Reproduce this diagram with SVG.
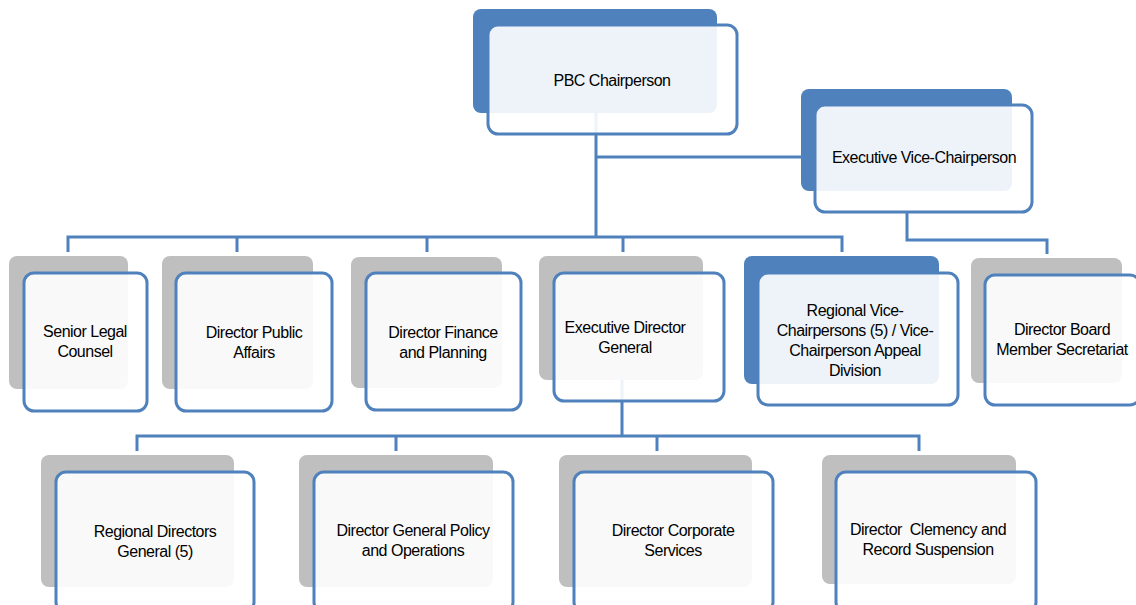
<svg xmlns="http://www.w3.org/2000/svg" width="1136" height="605" viewBox="0 0 1136 605">
<style>
.bb{fill:#4F81BD}
.bg{fill:#BFBFBF}
.fr{fill:#FFFFFF;fill-opacity:0.9;stroke:#4F81BD;stroke-width:3}
.ln{fill:none;stroke:#4F81BD;stroke-width:3}
text{font-family:"Liberation Sans",Arial,sans-serif;font-size:16px;fill:#000;text-anchor:middle;letter-spacing:-0.5px;white-space:pre}
</style>
<rect width="1136" height="605" fill="#FFFFFF"/>
<g id="connectors">
<path class="ln" d="M596,112 V237 M596,157 H801 M68,252 V237 H842 V252 M237,237 V252 M427,237 V252 M623,237 V252"/>
<path class="ln" d="M907,213 V240 H1047 V254"/>
<path class="ln" d="M622,380 V436 M137,451 V436 H919 V451 M396,436 V451 M657,436 V451"/>
</g>
<g id="pbc-chairperson">
<rect class="bb" x="473" y="9" width="244" height="104" rx="8"/>
<rect class="fr" x="488" y="25" width="249" height="109" rx="10"/>
<text x="612" y="86">PBC Chairperson</text>
</g>
<g id="executive-vice-chairperson">
<rect class="bb" x="801" y="89" width="211" height="102" rx="8"/>
<rect class="fr" x="815" y="105" width="217" height="107" rx="10"/>
<text x="924" y="163">Executive Vice-Chairperson</text>
</g>
<g id="senior-legal-counsel">
<rect class="bg" x="9" y="256" width="119" height="133" rx="8"/>
<rect class="fr" x="24" y="273" width="123" height="138" rx="10"/>
<text x="85" y="337">Senior Legal</text>
<text x="85" y="357">Counsel</text>
</g>
<g id="director-public-affairs">
<rect class="bg" x="162" y="256" width="151" height="133" rx="8"/>
<rect class="fr" x="176" y="273" width="156" height="138" rx="10"/>
<text x="254" y="338">Director Public</text>
<text x="254" y="358">Affairs</text>
</g>
<g id="director-finance-planning">
<rect class="bg" x="351" y="257" width="151" height="131" rx="8"/>
<rect class="fr" x="366" y="273" width="155" height="137" rx="10"/>
<text x="443" y="338">Director Finance</text>
<text x="443" y="358">and Planning</text>
</g>
<g id="executive-director-general">
<rect class="bg" x="539" y="256" width="164" height="124" rx="8"/>
<rect class="fr" x="554" y="273" width="170" height="128" rx="10"/>
<text x="625" y="333">Executive Director</text>
<text x="625" y="353">General</text>
</g>
<g id="regional-vice-chairpersons">
<rect class="bb" x="744" y="256" width="195" height="128" rx="8"/>
<rect class="fr" x="758" y="273" width="200" height="132" rx="10"/>
<text x="855" y="316">Regional Vice-</text>
<text x="855" y="336">Chairpersons (5) / Vice-</text>
<text x="855" y="356">Chairperson Appeal</text>
<text x="855" y="376">Division</text>
</g>
<g id="director-board-member-secretariat">
<rect class="bg" x="971" y="258" width="151" height="125" rx="8"/>
<rect class="fr" x="985" y="275" width="155" height="130" rx="10"/>
<text x="1062" y="335">Director Board</text>
<text x="1062" y="355">Member Secretariat</text>
</g>
<g id="regional-directors-general">
<rect class="bg" x="41" y="455" width="193" height="132" rx="8"/>
<rect class="fr" x="56" y="472" width="198" height="140" rx="10"/>
<text x="155" y="537">Regional Directors</text>
<text x="155" y="557">General (5)</text>
</g>
<g id="director-general-policy-operations">
<rect class="bg" x="299" y="455" width="194" height="132" rx="8"/>
<rect class="fr" x="314" y="472" width="199" height="140" rx="10"/>
<text x="413" y="536">Director General Policy</text>
<text x="413" y="556">and Operations</text>
</g>
<g id="director-corporate-services">
<rect class="bg" x="559" y="455" width="193" height="132" rx="8"/>
<rect class="fr" x="574" y="472" width="199" height="140" rx="10"/>
<text x="673" y="536">Director Corporate</text>
<text x="673" y="556">Services</text>
</g>
<g id="director-clemency-record-suspension">
<rect class="bg" x="822" y="455" width="194" height="129" rx="8"/>
<rect class="fr" x="836" y="472" width="200" height="140" rx="10"/>
<text x="928" y="535">Director  Clemency and</text>
<text x="928" y="555">Record Suspension</text>
</g>
</svg>
